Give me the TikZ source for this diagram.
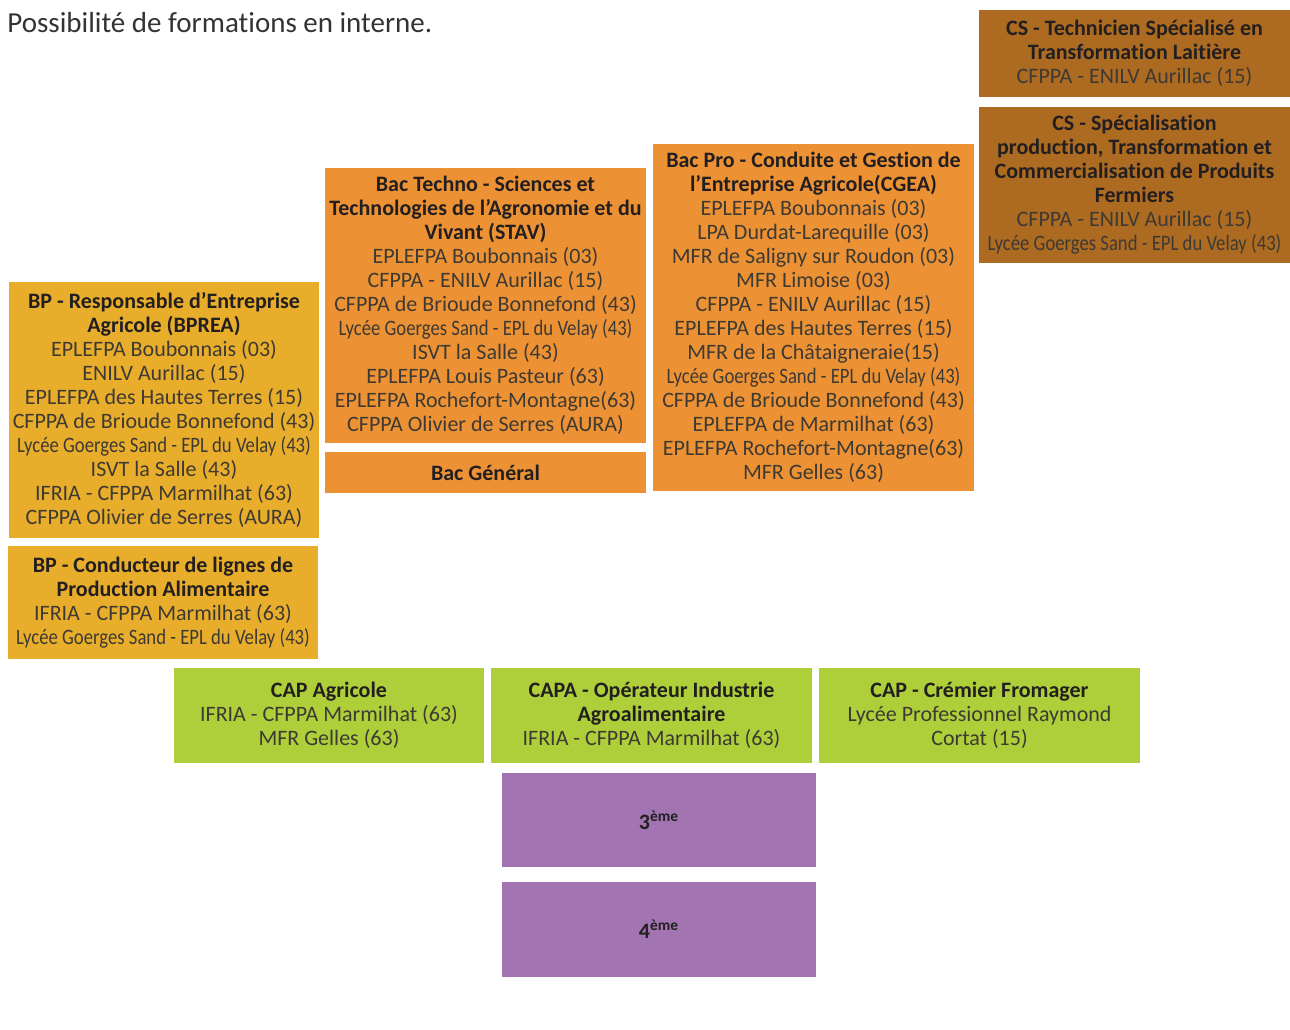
\documentclass[tikz,border=0pt]{standalone}
\usepackage{fontspec}
\usepackage{graphicx}
\setmainfont{Carlito}[Ligatures={NoCommon}]
\usepackage{tikz}
\usetikzlibrary{positioning}

\definecolor{brun}{HTML}{AD6A21}
\definecolor{orange}{HTML}{EC9234}
\definecolor{jaune}{HTML}{E8AE2B}
\definecolor{vert}{HTML}{AECF3A}
\definecolor{violet}{HTML}{A275B2}
\definecolor{titre}{HTML}{231F20}
\definecolor{corps}{HTML}{3E3A33}

\newcommand{\intitule}[1]{{\bfseries\color{titre}#1}}
\newcommand{\serre}[1]{\scalebox{0.85}[1]{#1}}

\begin{document}
\begin{tikzpicture}[x=0.5pt,y=-0.5pt,
	cursus/.style={rectangle,inner sep=0pt,align=center,text=corps,font=\fontsize{11}{12}\selectfont}]
	\useasboundingbox[fill=white] (0,0) rectangle (1290,1029);

	%intro
	\node[anchor=base west,inner sep=0pt,text=black!80,font=\fontsize{14.5}{16}\selectfont] (intro) at (7,32) {Possibilité de formations en interne.};

	%certificats de specialisation
	\node[cursus,fill=brun,minimum width=155.5pt,minimum height=43.5pt] (cs1) at (1134.5,53.5)
		{\intitule{CS - Technicien Spécialisé en}\\\intitule{Transformation Laitière}\\CFPPA - ENILV Aurillac (15)};
	\node[cursus,fill=brun,minimum width=155.5pt,minimum height=78pt] (cs2) at (1134.5,185)
		{\intitule{CS - Spécialisation}\\\intitule{production, Transformation et}\\\intitule{Commercialisation de Produits}\\\intitule{Fermiers}\\CFPPA - ENILV Aurillac (15)\\\serre{Lycée Goerges Sand - EPL du Velay (43)}};

	%bacs
	\node[cursus,fill=orange,minimum width=160.5pt,minimum height=137.5pt] (stav) at (485.5,305.5)
		{\intitule{Bac Techno - Sciences et}\\\intitule{Technologies de l’Agronomie et du}\\\intitule{Vivant (STAV)}\\EPLEFPA Boubonnais (03)\\CFPPA - ENILV Aurillac (15)\\CFPPA de Brioude Bonnefond (43)\\\serre{Lycée Goerges Sand - EPL du Velay (43)}\\ISVT la Salle (43)\\EPLEFPA Louis Pasteur (63)\\EPLEFPA Rochefort-Montagne(63)\\CFPPA Olivier de Serres (AURA)};
	\node[cursus,fill=orange,minimum width=160.5pt,minimum height=20.5pt] (bacgen) at (485.5,472.5)
		{\intitule{Bac Général}};
	\node[cursus,fill=orange,minimum width=160.5pt,minimum height=173.5pt] (bacpro) at (813.5,317.5)
		{\intitule{Bac Pro - Conduite et Gestion de}\\\intitule{l’Entreprise Agricole(CGEA)}\\EPLEFPA Boubonnais (03)\\LPA Durdat-Larequille (03)\\MFR de Saligny sur Roudon (03)\\MFR Limoise (03)\\CFPPA - ENILV Aurillac (15)\\EPLEFPA des Hautes Terres (15)\\MFR de la Châtaigneraie(15)\\\serre{Lycée Goerges Sand - EPL du Velay (43)}\\CFPPA de Brioude Bonnefond (43)\\EPLEFPA de Marmilhat (63)\\EPLEFPA Rochefort-Montagne(63)\\MFR Gelles (63)};

	%brevets professionnels
	\node[cursus,fill=jaune,minimum width=155pt,minimum height=128pt] (bprea) at (164,410)
		{\intitule{BP - Responsable d’Entreprise}\\\intitule{Agricole (BPREA)}\\EPLEFPA Boubonnais (03)\\ENILV Aurillac (15)\\EPLEFPA des Hautes Terres (15)\\CFPPA de Brioude Bonnefond (43)\\\serre{Lycée Goerges Sand - EPL du Velay (43)}\\ISVT la Salle (43)\\IFRIA - CFPPA Marmilhat (63)\\CFPPA Olivier de Serres (AURA)};
	\node[cursus,fill=jaune,minimum width=155pt,minimum height=56.5pt] (bpclpa) at (163,602.5)
		{\intitule{BP - Conducteur de lignes de}\\\intitule{Production Alimentaire}\\IFRIA - CFPPA Marmilhat (63)\\\serre{Lycée Goerges Sand - EPL du Velay (43)}};

	%cap
	\node[cursus,fill=vert,minimum width=155pt,minimum height=47.5pt] (capagri) at (329,715.5)
		{\intitule{CAP Agricole}\\IFRIA - CFPPA Marmilhat (63)\\MFR Gelles (63)};
	\node[cursus,fill=vert,minimum width=160.5pt,minimum height=47.5pt] (capa) at (651.5,715.5)
		{\intitule{CAPA - Opérateur Industrie}\\\intitule{Agroalimentaire}\\IFRIA - CFPPA Marmilhat (63)};
	\node[cursus,fill=vert,minimum width=160.5pt,minimum height=47.5pt] (capcf) at (979.5,715.5)
		{\intitule{CAP - Crémier Fromager}\\Lycée Professionnel Raymond\\Cortat (15)};

	%college
	\node[cursus,fill=violet,minimum width=157pt,minimum height=47pt] (trois) at (659,820)
		{\intitule{3\textsuperscript{ème}}};
	\node[cursus,fill=violet,minimum width=157pt,minimum height=47.5pt] (quatre) at (659,929.5)
		{\intitule{4\textsuperscript{ème}}};
\end{tikzpicture}
\end{document}
